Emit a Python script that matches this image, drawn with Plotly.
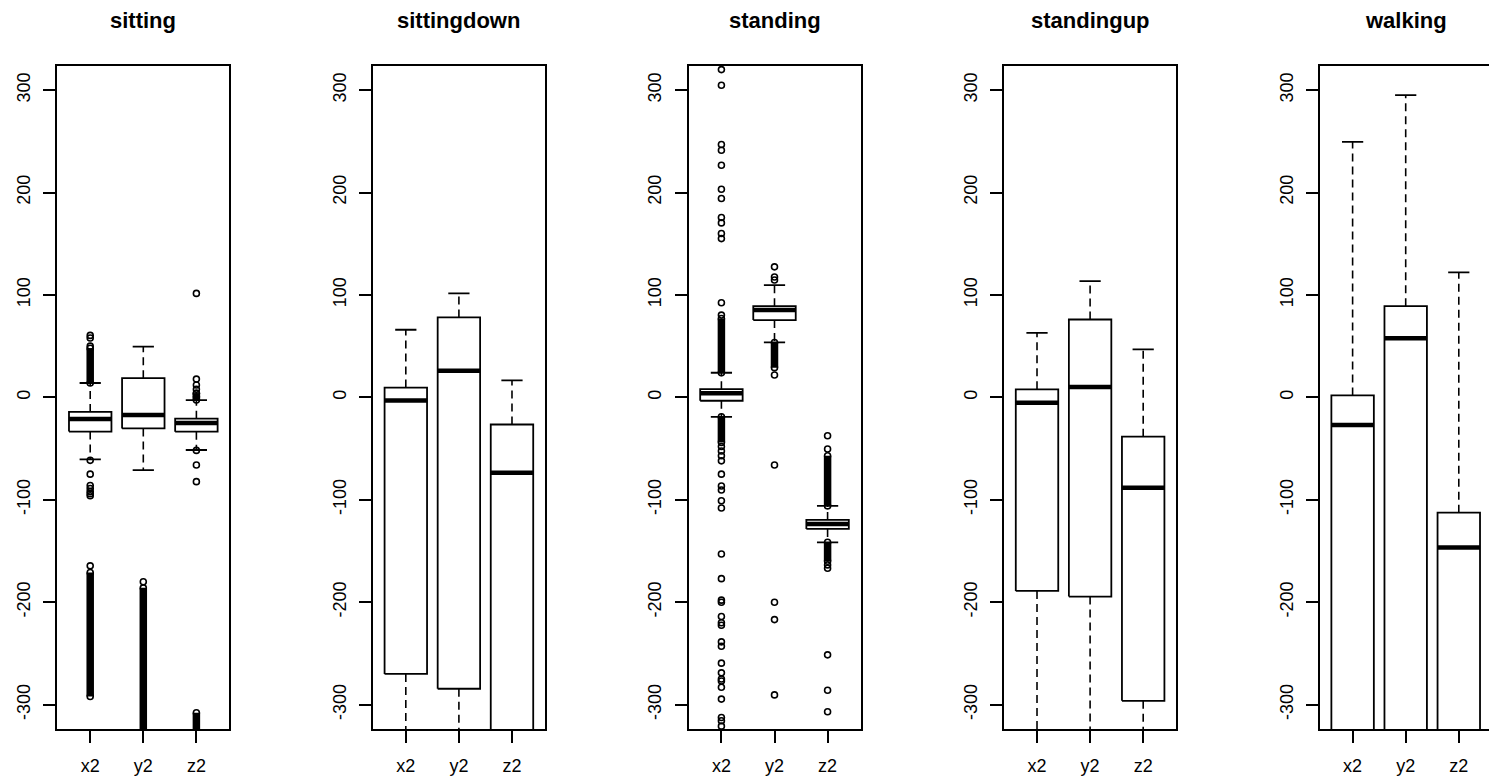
import plotly.graph_objects as go

# ---------------- data ----------------
activities = ["sitting", "sittingdown", "standing", "standingup", "walking"]
variables = ["x2", "y2", "z2"]
y_ticks = [-300, -200, -100, 0, 100, 200, 300]

# per activity: [x2, y2, z2]
q1_values = [[-33.4, -30.3, -33.5],
             [-270.0, -284.5, -345.0],
             [-3.3, 75.4, -128.5],
             [-189.0, -194.5, -296.3],
             [-345.0, -345.0, -345.0]]
median_values = [[-21.2, -17.3, -25.0],
                 [-3.0, 26.0, -73.5],
                 [3.9, 85.2, -123.6],
                 [-5.2, 10.2, -88.2],
                 [-27.0, 57.6, -146.7]]
q3_values = [[-14.2, 18.7, -20.8],
             [9.5, 78.0, -26.5],
             [8.0, 89.0, -119.7],
             [7.8, 76.0, -38.4],
             [1.9, 89.0, -112.6]]
upper_whisker = [[14.0, 49.6, -2.8],
                 [66.0, 101.5, 16.5],
                 [24.0, 109.6, -106.0],
                 [63.0, 113.5, 46.8],
                 [249.4, 295.0, 122.0]]
lower_whisker = [[-60.5, -71.0, -51.4],
                 [-360.0, -360.0, -360.0],
                 [-19.0, 53.6, -141.5],
                 [-360.0, -360.0, -360.0],
                 [-360.0, -360.0, -360.0]]

# individual outliers
outliers = [
    [[60.5, 58.0, 50.0, -61.5, -75.0, -86.0, -89.0, -92.0, -94.0, -96.0, -164.5],
     [-180.0],
     [0.6, 3.9, 7.8, 12.0, 17.8, 101.5, -51.8, -66.0, -82.3]],
    [[], [], []],
    [[320.0, 304.7, 246.8, 241.3, 226.6, 203.2, 194.1, 175.6, 170.3, 159.9, 155.0, 92.3, 80.3,
      -48.0, -52.4, -57.0, -62.0, -75.0, -86.5, -90.5, -101.0, -108.0, -153.0, -177.0, -198.0,
      -200.0, -214.0, -220.0, -222.5, -238.7, -243.0, -259.5, -269.0, -275.0, -277.0, -283.0,
      -294.6, -312.6, -315.8, -321.0],
     [127.4, 117.5, 114.5, 21.8, -66.0, -200.0, -217.0, -290.5],
     [-37.5, -50.4, -163.6, -166.8, -251.4, -286.0, -307.0]],
    [[], [], []],
    [[], [], []],
]
# runs of outliers so dense they merge into a solid column: [from, to]
dense_outliers = [
    [[[14.0, 48.0], [-171.0, -292.0]], [[-186.0, -345.0]], [[-2.6, 4.0], [-308.0, -345.0]]],
    [[], [], []],
    [[[24.0, 77.0], [-19.0, -44.0]], [[53.6, 29.0]], [[-106.0, -57.0], [-141.5, -160.0]]],
    [[], [], []],
    [[], [], []],
]

# ---------------- layout constants (pixels) ----------------
W, H = 1489, 777
panel_left0 = 57.3
panel_step = 315.6
panel_w = 172.0
plot_top, plot_bottom = 65.7, 729.0
x_lo, x_hi = 0.38, 3.62
y_range = [-323.8, 323.8]
box_half = 0.4
cap_half = 0.2
FONT = "Liberation Sans, Arial, Helvetica, sans-serif"
BLACK = "#000000"
LW = 1.8

fig = go.Figure()
layout_axes = {}
annotations = []

for p, act in enumerate(activities):
    xa = "x" if p == 0 else f"x{p+1}"
    ya = "y" if p == 0 else f"y{p+1}"
    left = panel_left0 + p * panel_step
    right = left + panel_w
    xr = [x_lo, x_hi]
    if right > W:
        frac = (W - left) / panel_w
        xr = [x_lo, x_lo + (x_hi - x_lo) * frac]
        right = W
    dom = [left / W, right / W]

    bx, by, mx, my, wx, wy, cx, cy, ox, oy, dx, dy = ([] for _ in range(12))
    for v in range(3):
        c = v + 1
        q1 = q1_values[p][v]; md = median_values[p][v]; q3 = q3_values[p][v]
        uw = upper_whisker[p][v]; lw = lower_whisker[p][v]
        bx += [c - box_half, c + box_half, c + box_half, c - box_half, c - box_half, None]
        by += [q1, q1, q3, q3, q1, None]
        mx += [c - box_half, c + box_half, None]
        my += [md, md, None]
        wx += [c, c, None, c, c, None]
        wy += [q3, uw, None, q1, lw, None]
        cx += [c - cap_half, c + cap_half, None, c - cap_half, c + cap_half, None]
        cy += [uw, uw, None, lw, lw, None]
        for val in outliers[p][v]:
            ox.append(c); oy.append(val)
        for a, b in dense_outliers[p][v]:
            dx += [c, c, None]
            dy += [a, b, None]
            ox += [c, c]; oy += [a, b]

    common = dict(xaxis=xa, yaxis=ya, showlegend=False, hoverinfo="skip")
    fig.add_trace(go.Scatter(x=wx, y=wy, mode="lines",
                             line=dict(color=BLACK, width=1.6, dash="8px,5px"), **common))
    fig.add_trace(go.Scatter(x=cx, y=cy, mode="lines",
                             line=dict(color=BLACK, width=LW), **common))
    fig.add_trace(go.Scatter(x=bx, y=by, mode="lines",
                             line=dict(color=BLACK, width=LW), **common))
    fig.add_trace(go.Scatter(x=mx, y=my, mode="lines",
                             line=dict(color=BLACK, width=4.5), **common))
    if dx:
        fig.add_trace(go.Scatter(x=dx, y=dy, mode="lines",
                                 line=dict(color=BLACK, width=7.5), **common))
    if ox:
        fig.add_trace(go.Scatter(x=ox, y=oy, mode="markers",
                                 marker=dict(symbol="circle-open", size=6, color=BLACK,
                                             line=dict(width=1.6, color=BLACK)), **common))

    xkey = "xaxis" if p == 0 else f"xaxis{p+1}"
    ykey = "yaxis" if p == 0 else f"yaxis{p+1}"
    layout_axes[xkey] = dict(
        domain=dom, range=xr, anchor=ya,
        tickmode="array", tickvals=[1, 2, 3], ticktext=variables,
        ticks="outside", ticklen=12, tickwidth=LW, tickcolor=BLACK,
        showline=True, linewidth=LW, linecolor=BLACK, mirror=True,
        showgrid=False, zeroline=False, fixedrange=True,
        tickfont=dict(family=FONT, size=18, color=BLACK),
        ticklabelstandoff=7,
    )
    layout_axes[ykey] = dict(
        domain=[(H - plot_bottom) / H, (H - plot_top) / H], range=y_range, anchor=xa,
        tickmode="array", tickvals=y_ticks, ticktext=[str(t) for t in y_ticks],
        tickangle=-90,
        ticks="outside", ticklen=12, tickwidth=LW, tickcolor=BLACK,
        showline=True, linewidth=LW, linecolor=BLACK,
        mirror=(right < W),
        showgrid=False, zeroline=False, fixedrange=True,
        tickfont=dict(family=FONT, size=18, color=BLACK),
        ticklabelstandoff=6,
    )
    annotations.append(dict(
        text=f"<b>{act}</b>", xref="paper", yref="paper",
        x=(left + panel_w / 2) / W, y=(H - 21) / H,
        xanchor="center", yanchor="middle", showarrow=False,
        font=dict(family=FONT, size=22, color=BLACK),
    ))

fig.update_layout(
    width=W, height=H, autosize=False,
    margin=dict(l=0, r=0, t=0, b=0),
    paper_bgcolor="white", plot_bgcolor="white",
    annotations=annotations,
    **layout_axes,
)

fig.write_html("out.html", config={"displayModeBar": False})
